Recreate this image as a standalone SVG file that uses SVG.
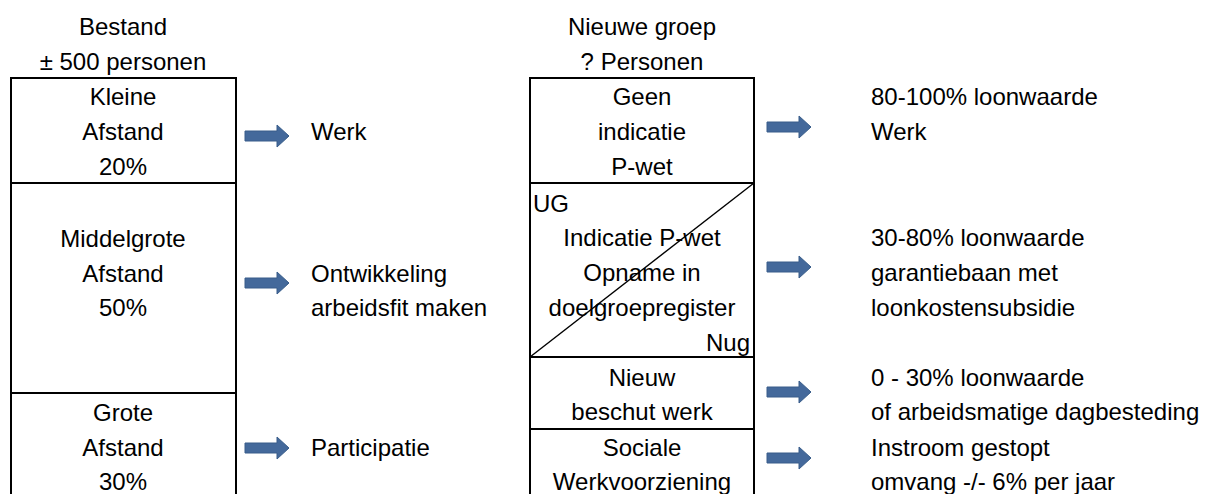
<svg xmlns="http://www.w3.org/2000/svg" width="1209" height="494" viewBox="0 0 1209 494">
<style>
text{font-family:"Liberation Sans",Arial,sans-serif;font-size:24px;fill:#000}
.c{text-anchor:middle}
.r{text-anchor:end}
.box{fill:none;stroke:#000;stroke-width:2}
.arr{fill:#44699b;stroke:#385d8a;stroke-width:1}
</style>
<defs>
<path id="arrow" d="M0,-5 H32 V-11 L44,0 L32,11 V5 H0 Z"/>
</defs>
<rect width="1209" height="494" fill="#fff"/>

<g id="hdr-bestand">
<text class="c" x="123" y="35">Bestand</text>
<text class="c" x="123" y="70">± 500 personen</text>
</g>
<g id="hdr-nieuw">
<text class="c" x="642" y="35">Nieuwe groep</text>
<text class="c" x="642" y="70">? Personen</text>
</g>

<g id="kleine">
<rect class="box" x="11" y="78" width="225" height="105"/>
<text class="c" x="123" y="105">Kleine</text>
<text class="c" x="123" y="140">Afstand</text>
<text class="c" x="123" y="175">20%</text>
</g>
<g id="middelgrote">
<rect class="box" x="11" y="183" width="225" height="210"/>
<text class="c" x="123" y="247">Middelgrote</text>
<text class="c" x="123" y="282">Afstand</text>
<text class="c" x="123" y="316">50%</text>
</g>
<g id="grote">
<rect class="box" x="11" y="393" width="225" height="120"/>
<text class="c" x="123" y="421">Grote</text>
<text class="c" x="123" y="456">Afstand</text>
<text class="c" x="123" y="490">30%</text>
</g>

<g id="geen">
<rect class="box" x="530" y="78" width="224" height="105"/>
<text class="c" x="642" y="105">Geen</text>
<text class="c" x="642" y="140">indicatie</text>
<text class="c" x="642" y="175">P-wet</text>
</g>
<g id="indicatie">
<rect class="box" x="530" y="183" width="224" height="174"/>
<line x1="754" y1="183" x2="530" y2="357" stroke="#000" stroke-width="1.4"/>
<text x="533" y="212">UG</text>
<text class="c" x="642" y="246">Indicatie P-wet</text>
<text class="c" x="642" y="281">Opname in</text>
<text class="c" x="642" y="316">doelgroepregister</text>
<text class="r" x="750" y="351">Nug</text>
</g>
<g id="beschut">
<rect class="box" x="530" y="357" width="224" height="72"/>
<text class="c" x="642" y="386">Nieuw</text>
<text class="c" x="642" y="420">beschut werk</text>
</g>
<g id="sw">
<rect class="box" x="530" y="429" width="224" height="90"/>
<text class="c" x="642" y="456">Sociale</text>
<text class="c" x="642" y="490">Werkvoorziening</text>
</g>

<g id="connectors">
<use href="#arrow" class="arr" x="245" y="136"/>
<use href="#arrow" class="arr" x="245" y="283"/>
<use href="#arrow" class="arr" x="245" y="448"/>
<use href="#arrow" class="arr" x="767" y="127"/>
<use href="#arrow" class="arr" x="767" y="267"/>
<use href="#arrow" class="arr" x="767" y="392"/>
<use href="#arrow" class="arr" x="767" y="458"/>
</g>

<g id="out-werk"><text x="311" y="140">Werk</text></g>
<g id="out-ontw">
<text x="311" y="282">Ontwikkeling</text>
<text x="311" y="316">arbeidsfit maken</text>
</g>
<g id="out-part"><text x="311" y="456">Participatie</text></g>

<g id="out-80">
<text x="871" y="105">80-100% loonwaarde</text>
<text x="871" y="140">Werk</text>
</g>
<g id="out-30">
<text x="871" y="246">30-80% loonwaarde</text>
<text x="871" y="281">garantiebaan met</text>
<text x="871" y="316">loonkostensubsidie</text>
</g>
<g id="out-0">
<text x="871" y="386">0 - 30% loonwaarde</text>
<text x="871" y="420">of arbeidsmatige dagbesteding</text>
</g>
<g id="out-sw">
<text x="871" y="456">Instroom gestopt</text>
<text x="871" y="490">omvang -/- 6% per jaar</text>
</g>
</svg>
